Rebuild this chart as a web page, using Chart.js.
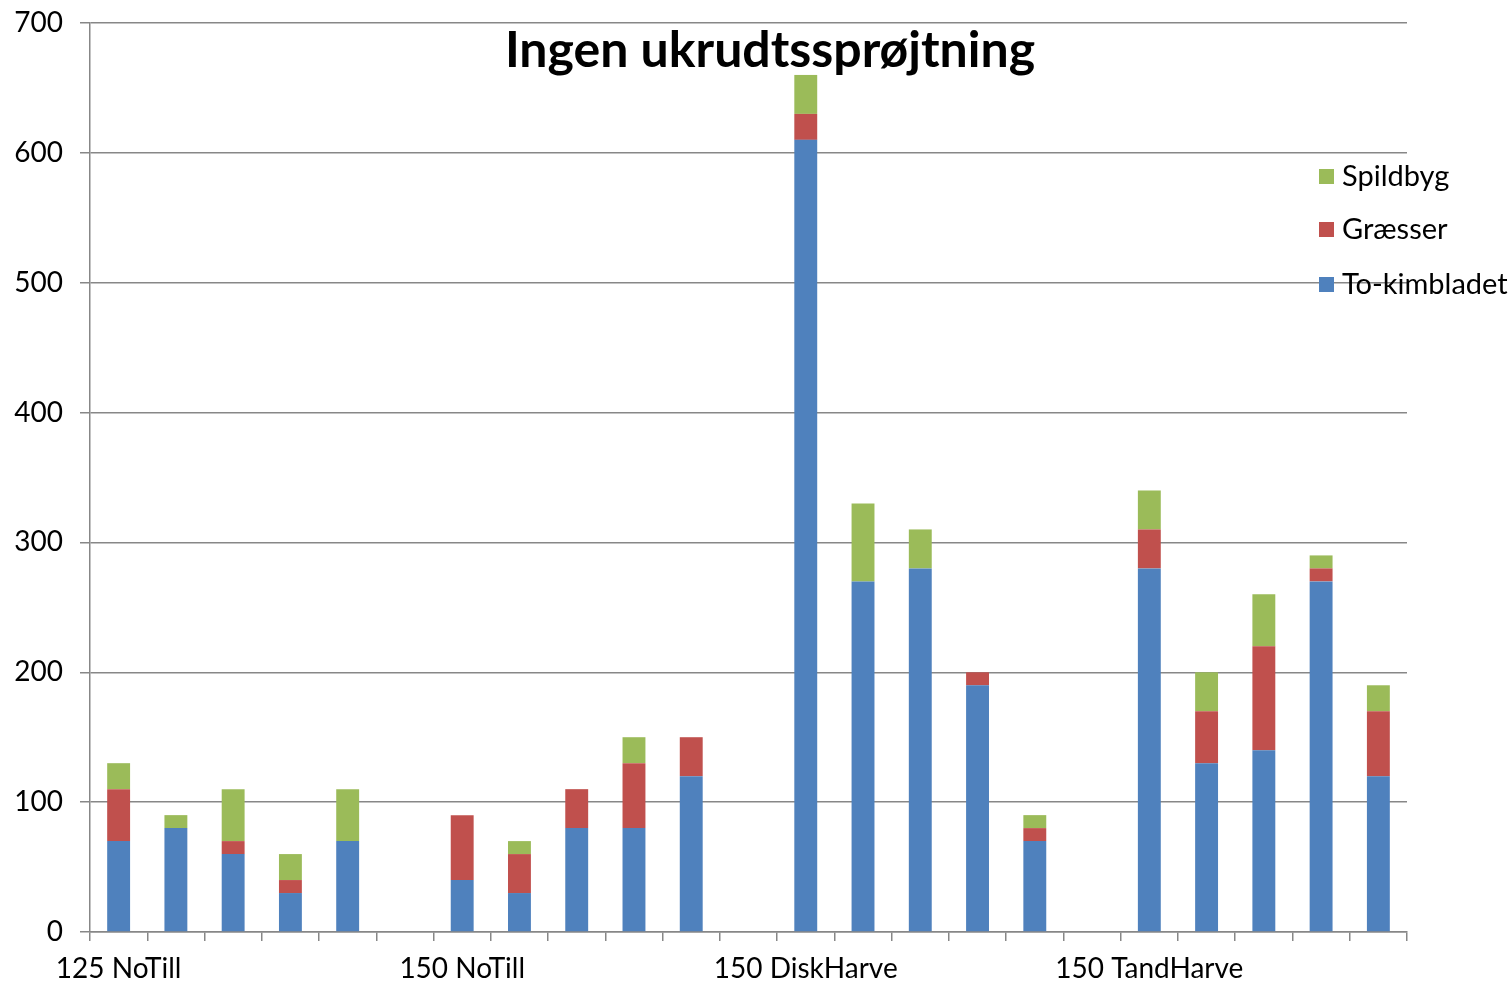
<!DOCTYPE html>
<html>
<head>
<meta charset="utf-8">
<script src="https://cdn.jsdelivr.net/npm/chart.js@4.4.1/dist/chart.umd.min.js"></script>
<style>
  html, body { margin: 0; padding: 0; background: #fff; }
</style>
</head>
<body>
<canvas id="chart" width="1509" height="987"></canvas>
<script>
// Ingen ukrudtssprøjtning — stablede søjler pr. behandling

const CATEGORIES = [
  '125 NoTill', '', '', '', '', '',
  '150 NoTill', '', '', '', '', '',
  '150 DiskHarve', '', '', '', '', '',
  '150 TandHarve', '', '', '', ''
];

const TO_KIMBLADET = [70, 80, 60, 30, 70, 0, 40, 30, 80, 80, 120, 0, 610, 270, 280, 190, 70, 0, 280, 130, 140, 270, 120];
const GRAESSER     = [40, 0, 10, 10, 0, 0, 50, 30, 30, 50, 30, 0, 20, 0, 0, 10, 10, 0, 30, 40, 80, 10, 50];
const SPILDBYG     = [20, 10, 40, 20, 40, 0, 0, 10, 0, 20, 0, 0, 30, 60, 30, 0, 10, 0, 30, 30, 40, 10, 20];

const Y_TICKS = [0, 100, 200, 300, 400, 500, 600, 700];

const TITLE = 'Ingen ukrudtssprøjtning';
const FONT = 'Lato, "Open Sans", sans-serif';
const AXIS_GREY = '#878787';

const COLORS = {
  blue: '#4F81BD',
  red: '#C0504D',
  green: '#9BBB59',
};

// titel og forklaring ligger oven i plotområdet, som i Excel
const overlayPlugin = {
  id: 'overlay',
  afterDraw(chart) {
    const ctx = chart.ctx;
    ctx.save();
    ctx.fillStyle = '#000';
    ctx.font = `bold 50px ${FONT}`;
    ctx.textAlign = 'center';
    ctx.textBaseline = 'middle';
    ctx.fillText(TITLE, 770, 51);

    const items = chart.data.datasets.slice().reverse();
    ctx.font = `29px ${FONT}`;
    ctx.textAlign = 'left';
    const rows = [176, 229, 284];
    items.forEach((ds, i) => {
      ctx.fillStyle = ds.backgroundColor;
      ctx.fillRect(1319, rows[i] - 7, 15, 15);
      ctx.fillStyle = '#000';
      ctx.fillText(ds.label, 1342, rows[i] + 1);
    });
    ctx.restore();
  },
};

new Chart(document.getElementById('chart'), {
  type: 'bar',
  data: {
    labels: CATEGORIES,
    datasets: [
      { label: 'To-kimbladet', data: TO_KIMBLADET, backgroundColor: COLORS.blue },
      { label: 'Græsser', data: GRAESSER, backgroundColor: COLORS.red },
      { label: 'Spildbyg', data: SPILDBYG, backgroundColor: COLORS.green },
    ],
  },
  options: {
    responsive: false,
    animation: false,
    devicePixelRatio: 1,
    layout: { padding: { top: 23, right: 102, left: 0, bottom: 0 } },
    datasets: {
      bar: { barPercentage: 0.4, categoryPercentage: 1, borderWidth: 0 },
    },
    plugins: {
      legend: { display: false },
      title: { display: false },
      tooltip: { enabled: false },
    },
    scales: {
      x: {
        stacked: true,
        afterFit: (scale) => {
          scale.height = 55;
          scale.paddingLeft = 0;
          scale.paddingRight = 0;
        },
        grid: {
          offset: true,
          drawOnChartArea: false,
          drawTicks: true,
          tickLength: 9,
          color: AXIS_GREY,
          lineWidth: 1.5,
        },
        border: { color: AXIS_GREY, width: 1.5 },
        ticks: {
          autoSkip: false,
          maxRotation: 0,
          minRotation: 0,
          padding: 11,
          color: '#000',
          font: { family: FONT, size: 28 },
        },
      },
      y: {
        stacked: true,
        min: 0,
        max: 700,
        afterFit: (scale) => {
          scale.width = 90;
          scale.paddingTop = 0;
          scale.paddingBottom = 0;
        },
        afterBuildTicks: (scale) => { scale.ticks = Y_TICKS.map((v) => ({ value: v })); },
        grid: {
          color: AXIS_GREY,
          lineWidth: 1.5,
          tickLength: 10,
        },
        border: { color: AXIS_GREY, width: 1.5 },
        ticks: {
          padding: 17,
          color: '#000',
          font: { family: FONT, size: 28 },
        },
      },
    },
  },
  plugins: [overlayPlugin],
});
</script>
</body>
</html>
